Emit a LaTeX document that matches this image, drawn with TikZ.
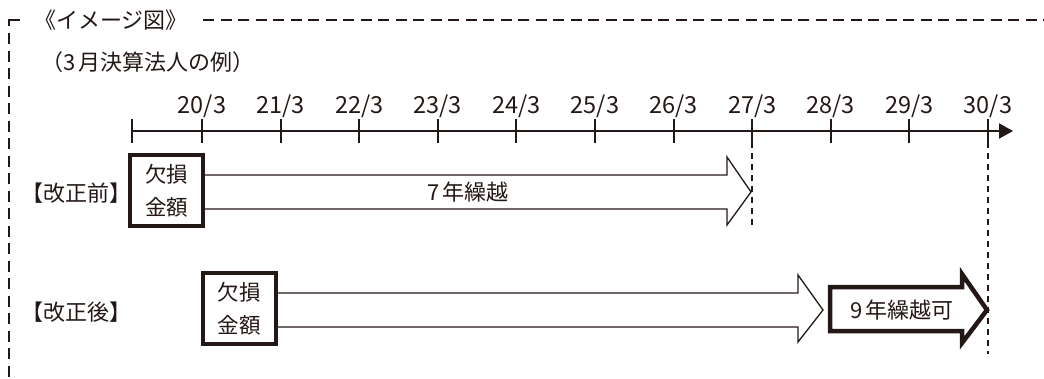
\documentclass[tikz,border=0pt]{standalone}
\usepackage{fontspec}
\setmainfont{Noto Sans CJK JP}
\usetikzlibrary{arrows.meta}
\definecolor{ink}{HTML}{231815}
\newcommand{\dg}[1]{#1\kern2.5pt}
\tikzset{
  frame/.style={draw=ink,line width=2.4pt,dash pattern=on 11pt off 6.5pt},
  axisline/.style={draw=ink,line width=2pt},
  tickline/.style={draw=ink,line width=2pt},
  guide/.style={draw=ink,line width=2pt,dash pattern=on 6pt off 5pt},
  lossbox/.style={draw=ink,line width=4pt,fill=white,minimum width=73pt,minimum height=71pt,inner sep=0pt,align=center,font=\fontsize{21.5}{33}\selectfont,text=ink},
  hollow/.style={draw=ink,line width=1.3pt,miter limit=20},
  bold arrow/.style={draw=ink,line width=4.5pt,miter limit=20,line join=miter},
  lbl/.style={text=ink,inner sep=0pt,font=\fontsize{22}{24}\selectfont},
  datelbl/.style={text=ink,inner sep=0pt,font=\fontsize{23.5}{24}\selectfont},
}
\begin{document}
\begin{tikzpicture}[x=1pt,y=-1pt]
\useasboundingbox (0,0) rectangle (1044,378);
% frame
\draw[ink,line width=2.4pt] (20,20) -- (9,20) -- (9,26);
\draw[frame] (9,33) -- (9,378);
\draw[frame] (203,20) -- (1044,20);
\node[lbl] (title) at (111,20) {《イメージ図》};
\node[lbl] (example) at (148,62) {（\dg{3}月決算法人の例）};
% axis
\coordinate (a0) at (132,131);
\coordinate (aend) at (1013,131);
\draw[axisline,-{Triangle[length=14pt,width=15pt]}] (a0) -- (aend);
\draw[tickline] (132,119) -- (132,143);
\foreach \i [count=\k from 0] in {20,...,30}{
  \pgfmathsetmacro{\xx}{202+78.6*\k}
  \draw[tickline] (\xx,119) -- (\xx,143);
  \node[datelbl] (d\i) at (\xx,106) {\i/3};
}
\coordinate (g27) at (752,131);
\coordinate (g27e) at (752,227);
\coordinate (g30) at (988,131);
\coordinate (g30e) at (988,354);
\draw[guide] (g27) -- (g27e);
\draw[guide] (g30) -- (g30e);
% before
\node[lbl] (before) at (76,193) {【改正前】};
\node[lossbox] (b1) at (166.5,190.5) {欠損\\金額};
\draw[hollow] (b1.east |- 0,175) -- (727,175) -- (727,157) -- (751,192) -- (727,225) -- (727,209) -- (b1.east |- 0,209);
\node[lbl] (seven) at (468,192) {\dg{7}年繰越};
% after
\node[lbl] (after) at (76,312) {【改正後】};
\node[lossbox] (b2) at (239,308.5) {欠損\\金額};
\draw[hollow] (b2.east |- 0,293) -- (798,293) -- (798,275) -- (823,310) -- (798,342) -- (798,327) -- (b2.east |- 0,327);
\draw[bold arrow] (830,287) -- (962,287) -- (962,274) -- (987,310) -- (962,343) -- (962,331) -- (830,331) -- cycle;
\node[lbl] (nine) at (902,310) {\dg{9}年繰越可};
\end{tikzpicture}
\end{document}
